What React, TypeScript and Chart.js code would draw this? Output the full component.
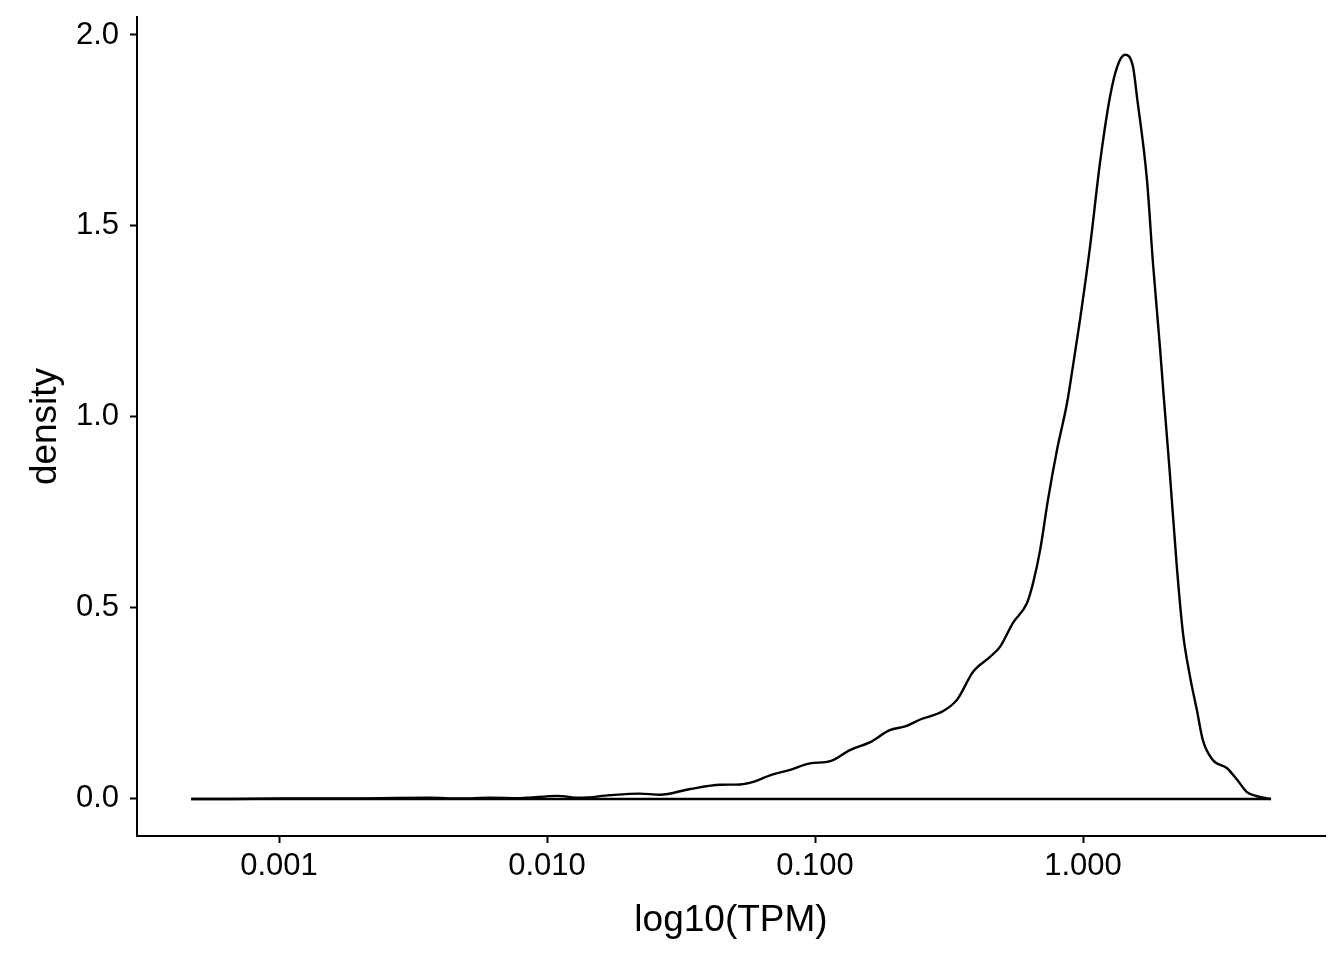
import React, { useEffect, useRef } from "react";
import { Chart, registerables } from "chart.js";

Chart.register(...registerables);

// TPM values (x) and density values (y)
const tpm: number[] = [
  0.00047, 0.00066, 0.001, 0.00155, 0.00238, 0.00366, 0.00473, 0.00612, 0.00792,
  0.0109, 0.0133, 0.0172, 0.0222, 0.0264, 0.0342, 0.0443, 0.0525, 0.0597, 0.0679,
  0.0807, 0.0958, 0.114, 0.135, 0.16, 0.19, 0.217, 0.247, 0.301, 0.339, 0.389,
  0.45, 0.49, 0.548, 0.618, 0.651, 0.692, 0.74, 0.8, 0.871, 0.918, 0.975, 1.062,
  1.157, 1.261, 1.34, 1.435, 1.537, 1.59, 1.733, 1.824, 1.937, 1.99, 2.11, 2.24,
  2.36, 2.51, 2.66, 2.8, 3.05, 3.44, 3.76, 4.09, 4.46, 5.03,
];
const density: number[] = [
  0.0, 0.0, 0.001, 0.001, 0.002, 0.003, 0.001, 0.003, 0.002,
  0.008, 0.003, 0.01, 0.014, 0.011, 0.026, 0.037, 0.038, 0.046, 0.062,
  0.076, 0.093, 0.099, 0.128, 0.148, 0.18, 0.19, 0.208, 0.23, 0.26, 0.333,
  0.372, 0.398, 0.461, 0.513, 0.565, 0.652, 0.783, 0.914, 1.035, 1.135, 1.255, 1.445,
  1.665, 1.838, 1.916, 1.948, 1.916, 1.838, 1.62, 1.403, 1.183, 1.075, 0.85, 0.607,
  0.435, 0.319, 0.233, 0.154, 0.102, 0.081, 0.05, 0.018, 0.007, 0.0,
];
const xTicks: number[] = [0.001, 0.01, 0.1, 1];
const yTicks: number[] = [0, 0.5, 1, 1.5, 2];

const FONT = "'Liberation Sans', Arial, Helvetica, sans-serif";

export default function App() {
  const ref = useRef<HTMLCanvasElement | null>(null);

  useEffect(() => {
    document.body.style.margin = "0";
    const canvas = ref.current;
    if (!canvas) return;
    const curve = tpm.map((x, i) => ({ x, y: density[i] }));
    const baseline = [
      { x: tpm[0], y: 0 },
      { x: tpm[tpm.length - 1], y: 0 },
    ];
    const chart = new Chart(canvas, {
      type: "line",
      data: {
        datasets: [
          {
            data: baseline,
            borderColor: "#000",
            borderWidth: 2.4,
            pointRadius: 0,
            fill: false,
            tension: 0,
          },
          {
            data: curve,
            borderColor: "#000",
            borderWidth: 2.4,
            pointRadius: 0,
            fill: false,
            cubicInterpolationMode: "monotone",
          },
        ],
      },
      options: {
        animation: false,
        responsive: false,
        maintainAspectRatio: false,
        devicePixelRatio: 1,
        parsing: false,
        layout: { padding: { top: 17, right: 19, bottom: 0, left: 0 } },
        plugins: {
          legend: { display: false },
          tooltip: { enabled: false },
        },
        scales: {
          x: {
            type: "logarithmic",
            min: Math.pow(10, -3.53),
            max: Math.pow(10, 0.903),
            afterBuildTicks: (s: any) => {
              s.ticks = xTicks.map((v) => ({ value: v }));
            },
            afterFit: (s: any) => {
              s.height = 124;
              s.paddingLeft = 0;
              s.paddingRight = 0;
            },
            ticks: {
              autoSkip: false,
              maxRotation: 0,
              color: "#000",
              font: { family: FONT, size: 31 },
              padding: 5,
              callback: (v: any) => Number(v).toFixed(3),
            },
            grid: {
              display: true,
              drawOnChartArea: false,
              drawTicks: true,
              tickLength: 7,
              tickColor: "#000",
              tickWidth: 2,
            },
            border: { display: true, color: "#000", width: 2 },
            title: {
              display: true,
              text: "log10(TPM)",
              color: "#000",
              font: { family: FONT, size: 37 },
              padding: { top: 0, bottom: 17 },
            },
          },
          y: {
            type: "linear",
            min: -0.097,
            max: 2.047,
            afterBuildTicks: (s: any) => {
              s.ticks = yTicks.map((v) => ({ value: v }));
            },
            afterFit: (s: any) => {
              s.width = 137;
              s.paddingTop = 0;
              s.paddingBottom = 0;
            },
            ticks: {
              color: "#000",
              font: { family: FONT, size: 31 },
              padding: 11,
              callback: (v: any) => Number(v).toFixed(1),
            },
            grid: {
              display: true,
              drawOnChartArea: false,
              drawTicks: true,
              tickLength: 7,
              tickColor: "#000",
              tickWidth: 2,
            },
            border: { display: true, color: "#000", width: 2 },
            title: {
              display: true,
              text: "density",
              color: "#000",
              font: { family: FONT, size: 37 },
              padding: { top: 24, bottom: 0 },
            },
          },
        },
      },
    } as any);
    return () => chart.destroy();
  }, []);

  return (
    <div style={{ position: "absolute", left: 0, top: 0, width: 1344, height: 960, background: "#fff" }}>
      <canvas ref={ref} width={1344} height={960} style={{ width: 1344, height: 960 }} />
    </div>
  );
}
